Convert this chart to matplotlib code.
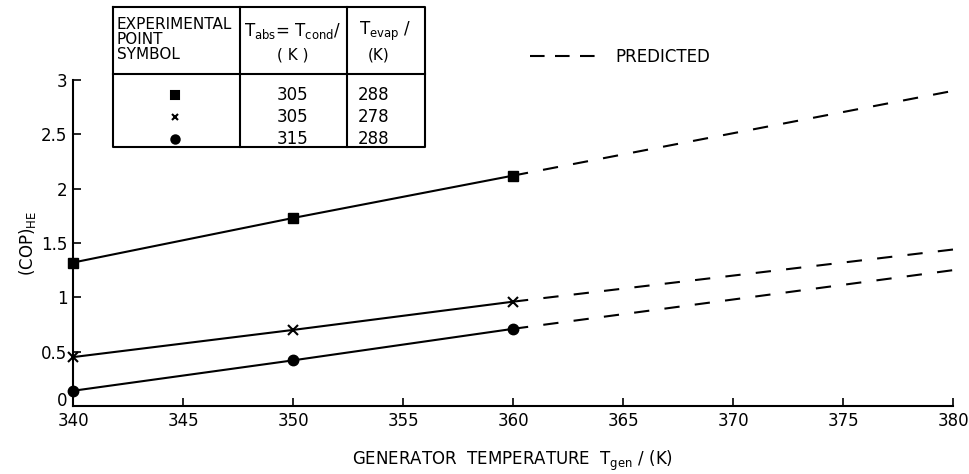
import numpy as np
import matplotlib
matplotlib.use("Agg")
import matplotlib.pyplot as plt
import matplotlib.transforms as mtransforms
from matplotlib.lines import Line2D

# generator temperature (K)
t_exp = [340, 350, 360]
t_pred = [360, 380]

# (COP)_HE, experimental points
cop_square = [1.32, 1.73, 2.12]
cop_cross = [0.45, 0.70, 0.96]
cop_circle = [0.14, 0.42, 0.71]

# predicted end points (dashed)
pred_square = [2.12, 2.90]
pred_cross = [0.96, 1.44]
pred_circle = [0.71, 1.25]

x_ticks = [340, 345, 350, 355, 360, 365, 370, 375, 380]
y_ticks = [0, 0.5, 1, 1.5, 2, 2.5, 3]
y_ticklabels = ["0", "0.5", "1", "1.5", "2", "2.5", "3"]

# key table
tab_symbols = ["s", "x", "o"]
tab_tabs = ["305", "305", "315"]
tab_tevap = ["288", "278", "288"]

plt.rcParams['font.family'] = ['DejaVu Sans']
plt.rcParams['lines.scale_dashes'] = False

W, H = 970, 474
fig = plt.figure(figsize=(W / 100, H / 100), dpi=100)
ax = fig.add_axes([73 / W, 1 - 406 / H, 880 / W, 326 / H])

lw = 1.5
dash = (11, 11)
ax.plot(t_exp, cop_square, color='black', lw=lw, marker='s', markersize=7.5)
ax.plot(t_exp, cop_cross, color='black', lw=lw, marker='x', markersize=7, mew=1.5)
ax.plot(t_exp, cop_circle, color='black', lw=lw, marker='o', markersize=7.5)
for vals in (pred_square, pred_cross, pred_circle):
    ax.plot(t_pred, vals, color='black', lw=lw, dashes=dash)

ax.set_xlim(340, 380)
ax.set_ylim(0, 3)
ax.set_xticks(x_ticks)
ax.set_yticks(y_ticks)
ax.set_yticklabels(y_ticklabels)
ax.tick_params(direction='in', length=6, width=1.2, labelsize=12, pad=4)
ax.spines['top'].set_visible(False)
ax.spines['right'].set_visible(False)
for s in ('left', 'bottom'):
    ax.spines[s].set_linewidth(1.5)
for ln in ax.lines:
    ln.set_clip_on(False)

# lift the "0" label clear of the "340" label, as in the original
zero_lab = ax.get_yticklabels()[0]
zero_lab.set_transform(zero_lab.get_transform() +
                       mtransforms.ScaledTranslation(0, 7 / 100, fig.dpi_scale_trans))

ax.set_xlabel(r"GENERATOR  TEMPERATURE  $\mathregular{T_{gen}}$ / (K)", fontsize=12, labelpad=14)
ax.set_ylabel(r"(COP)$\mathregular{_{HE}}$", fontsize=12, labelpad=2)

# legend for predicted lines
handle = Line2D([], [], color='black', lw=lw, dashes=(10.5, 7.5))
fig.legend([handle], ["PREDICTED"], loc='center left', frameon=False,
           bbox_to_anchor=(515 / W, 1 - 57 / H), handlelength=3.9, fontsize=12,
           handletextpad=1.2)

# key table drawn in pixel units
tw, th = 312, 140
tab = fig.add_axes([113 / W, 1 - 147 / H, tw / W, th / H])
tab.set_xlim(0, tw)
tab.set_ylim(th, 0)
tab.axis('off')
kw = dict(color='black', lw=1.5, clip_on=False)
tab.plot([0, tw, tw, 0, 0], [0, 0, th, th, 0], **kw)
tab.plot([0, tw], [67, 67], **kw)
tab.plot([127, 127], [0, th], **kw)
tab.plot([234, 234], [0, th], **kw)

tab.text(4, 33, "EXPERIMENTAL\nPOINT\nSYMBOL", fontsize=11, va='center', ha='left',
         linespacing=1.0)
tab.text(180, 24, r"$\mathregular{T_{abs}}$= $\mathregular{T_{cond}}$/", fontsize=12,
         ha='center', va='center')
tab.text(180, 48, "( K )", fontsize=11, ha='center', va='center')
tab.text(272, 24, r"$\mathregular{T_{evap}}$ /", fontsize=12, ha='center', va='center')
tab.text(266, 48, "(K)", fontsize=11, ha='center', va='center')

rows_y = [88, 110, 132]
for yy, sym, a, e in zip(rows_y, tab_symbols, tab_tabs, tab_tevap):
    tab.plot([62], [yy], marker=sym, color='black', markersize=6 if sym != 'x' else 5,
             mew=1.5, clip_on=False)
    tab.text(180, yy, a, fontsize=12, ha='center', va='center')
    tab.text(245, yy, e, fontsize=12, ha='left', va='center')

fig.savefig("out.png", dpi=100)
